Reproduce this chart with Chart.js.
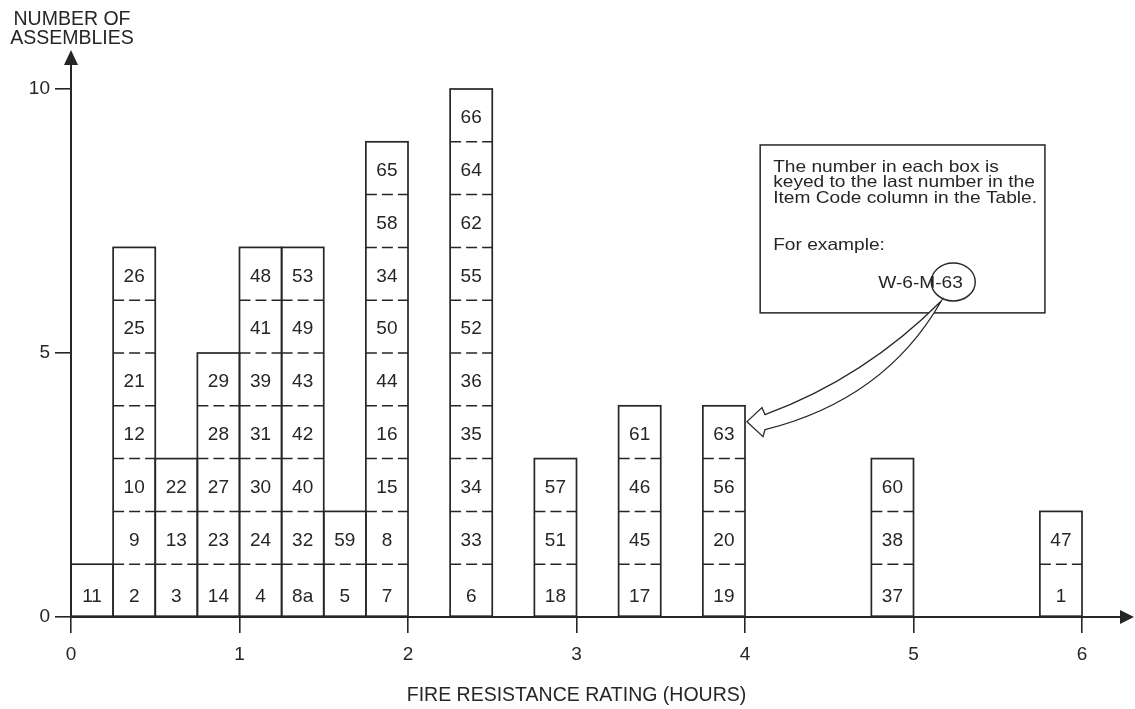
<!DOCTYPE html>
<html>
<head>
<meta charset="utf-8">
<script src="https://cdn.jsdelivr.net/npm/chart.js@4.4.1/dist/chart.umd.min.js"></script>
<style>
  html, body { margin: 0; padding: 0; background: #ffffff; }
  canvas { display: block; }
</style>
</head>
<body>
<canvas id="c" width="1135" height="709"></canvas>
<script>
const FONT = "'Liberation Sans', Arial, Helvetica, sans-serif";
const INK = '#262626';

// Quarter-hour bins (start of each bin, hours)
const binStarts = ['0','0.25','0.5','0.75','1','1.25','1.5','1.75','2','2.25','2.5','2.75',
                   '3','3.25','3.5','3.75','4','4.25','4.5','4.75','5','5.25','5.5','5.75'];
// Number of assemblies in each bin
const counts = [1, 7, 3, 5, 7, 7, 2, 9, null, 10, null, 3,
                null, 4, null, 4, null, null, null, 3, null, null, null, 2];
// Item code numbers in each bin, bottom box first
const itemCodes = [
  ['11'],
  ['2','9','10','12','21','25','26'],
  ['3','13','22'],
  ['14','23','27','28','29'],
  ['4','24','30','31','39','41','48'],
  ['8a','32','40','42','43','49','53'],
  ['5','59'],
  ['7','8','15','16','44','50','34','58','65'],
  [],
  ['6','33','34','35','36','52','55','62','64','66'],
  [],
  ['18','51','57'],
  [],
  ['17','45','46','61'],
  [],
  ['19','20','56','63'],
  [], [], [],
  ['37','38','60'],
  [], [], [],
  ['1','47']
];
const xTitle = 'FIRE RESISTANCE RATING (HOURS)';
const yTitle = ['NUMBER OF', 'ASSEMBLIES'];
const noteLines = ['The number in each box is', 'keyed to the last number in the', 'Item Code column in the Table.'];
const noteExample = 'For example:';
const exampleCode = ['W-6-M-', '63'];

function sText(ctx, t, x, y, sx) {
  ctx.save();
  ctx.translate(x, y);
  ctx.scale(sx, 1);
  ctx.fillText(t, 0, 0);
  ctx.restore();
}

const boxPlugin = {
  id: 'boxes',
  afterDatasetsDraw(chart) {
    const ctx = chart.ctx;
    const ys = chart.scales.y, xs = chart.scales.x;
    const meta = chart.getDatasetMeta(0);
    ctx.save();
    ctx.strokeStyle = INK;
    ctx.fillStyle = INK;

    // boxes: dashed separators, solid outline, labels
    meta.data.forEach((bar, i) => {
      const n = counts[i];
      if (!n) return;
      const p = bar.getProps(['x', 'y', 'base', 'width'], true);
      const l = p.x - p.width / 2, r = p.x + p.width / 2;
      ctx.lineWidth = 1.5;
      ctx.setLineDash([11, 5]);
      for (let k = 1; k < n; k++) {
        const py = ys.getPixelForValue(k);
        ctx.beginPath(); ctx.moveTo(l, py); ctx.lineTo(r, py); ctx.stroke();
      }
      ctx.setLineDash([]);
      ctx.lineWidth = 1.7;
      ctx.strokeRect(l, p.y, p.width, p.base - p.y);
      ctx.font = '19px ' + FONT;
      ctx.textAlign = 'center';
      ctx.textBaseline = 'middle';
      itemCodes[i].forEach((code, k) => {
        const cy = ys.getPixelForValue(k + 0.5) + (k === 0 ? 6 : 2.5);
        ctx.fillText(code, p.x, cy);
      });
    });

    // axes with arrowheads
    const x0 = xs.getPixelForValue(0), y0 = ys.getPixelForValue(0);
    const yTop = ys.getPixelForValue(10);
    ctx.lineWidth = 2;
    ctx.beginPath(); ctx.moveTo(x0, y0 + 1); ctx.lineTo(x0, yTop - 26); ctx.stroke();
    ctx.beginPath(); ctx.moveTo(x0, yTop - 39); ctx.lineTo(x0 - 7, yTop - 24); ctx.lineTo(x0 + 7, yTop - 24); ctx.closePath(); ctx.fill();
    const W = chart.width;
    ctx.beginPath(); ctx.moveTo(x0 - 1, y0); ctx.lineTo(W - 12, y0); ctx.stroke();
    ctx.beginPath(); ctx.moveTo(W - 1, y0); ctx.lineTo(W - 15, y0 - 7); ctx.lineTo(W - 15, y0 + 7); ctx.closePath(); ctx.fill();

    // y axis title
    ctx.font = '19.5px ' + FONT;
    ctx.textAlign = 'center';
    ctx.textBaseline = 'alphabetic';
    ctx.fillText(yTitle[0], x0 + 1, 25);
    ctx.fillText(yTitle[1], x0 + 1, 44);

    // note box
    const bx0 = xs.getPixelForValue(4.09), bx1 = xs.getPixelForValue(5.78);
    const by0 = ys.getPixelForValue(8.94), by1 = ys.getPixelForValue(5.76);
    ctx.lineWidth = 1.5;
    ctx.fillStyle = '#ffffff';
    ctx.fillRect(bx0, by0, bx1 - bx0, by1 - by0);
    ctx.strokeRect(bx0, by0, bx1 - bx0, by1 - by0);
    ctx.fillStyle = INK;
    ctx.font = '16.5px ' + FONT;
    ctx.textAlign = 'left';
    const sx = 1.16;
    sText(ctx, noteLines[0], bx0 + 13, by0 + 27, sx);
    sText(ctx, noteLines[1], bx0 + 13, by0 + 42.5, sx);
    sText(ctx, noteLines[2], bx0 + 13, by0 + 58, sx);
    sText(ctx, noteExample, bx0 + 13, by0 + 105, sx);
    const cxStart = bx0 + 118, cyBase = by0 + 143;
    sText(ctx, exampleCode[0] + exampleCode[1], cxStart, cyBase, sx);
    const w1 = ctx.measureText(exampleCode[0]).width * sx;
    const w2 = ctx.measureText(exampleCode[1]).width * sx;
    const ecx = cxStart + w1 + w2 / 2 + 1, ecy = cyBase - 6;
    ctx.lineWidth = 1.4;
    ctx.beginPath(); ctx.ellipse(ecx, ecy, 22, 19, 0, 0, Math.PI * 2); ctx.stroke();

    // curved outlined arrow to box 63
    const T = { x: xs.getPixelForValue(4) + 2, y: ys.getPixelForValue(3.7) };
    const S = { x: ecx - 12, y: ecy + 19 };
    ctx.beginPath();
    ctx.moveTo(T.x, T.y);
    ctx.lineTo(T.x + 15, T.y - 14);
    ctx.lineTo(T.x + 18, T.y - 7);
    ctx.quadraticCurveTo(T.x + 118, T.y - 44, S.x, S.y);
    ctx.quadraticCurveTo(T.x + 138, T.y - 22, T.x + 18, T.y + 8);
    ctx.lineTo(T.x + 16, T.y + 15);
    ctx.closePath();
    ctx.fillStyle = '#ffffff';
    ctx.fill();
    ctx.lineWidth = 1.3;
    ctx.stroke();
    ctx.restore();
  }
};

new Chart(document.getElementById('c'), {
  type: 'bar',
  data: {
    labels: binStarts,
    datasets: [{
      data: counts,
      xAxisID: 'xb',
      yAxisID: 'y',
      backgroundColor: '#ffffff',
      borderColor: INK,
      borderWidth: 0,
      borderSkipped: false,
      barPercentage: 1,
      categoryPercentage: 1
    }]
  },
  options: {
    responsive: false,
    animation: false,
    devicePixelRatio: 1,
    layout: { padding: { top: 89, right: 53, left: 0, bottom: 0 } },
    plugins: { legend: { display: false }, tooltip: { enabled: false }, title: { display: false } },
    scales: {
      xb: { type: 'category', display: false, offset: true },
      x: {
        type: 'linear', position: 'bottom', min: 0, max: 6, offset: false,
        ticks: { stepSize: 1, color: INK, font: { family: FONT, size: 19 }, padding: 10, maxRotation: 0 },
        grid: { offset: false, drawOnChartArea: false, drawTicks: true, tickLength: 16, color: INK, lineWidth: 1.6 },
        border: { display: false },
        title: { display: true, text: xTitle, color: INK, font: { family: FONT, size: 19.5 }, padding: { top: 0, bottom: 2 } },
        afterFit(s) { s.height = 92; }
      },
      y: {
        min: 0, max: 10,
        ticks: { stepSize: 5, color: INK, font: { family: FONT, size: 19 }, padding: 5 },
        grid: { offset: false, drawOnChartArea: false, drawTicks: true, tickLength: 16, color: INK, lineWidth: 1.6 },
        border: { display: false },
        afterFit(s) { s.width = 71; }
      }
    }
  },
  plugins: [boxPlugin]
});
</script>
</body>
</html>
